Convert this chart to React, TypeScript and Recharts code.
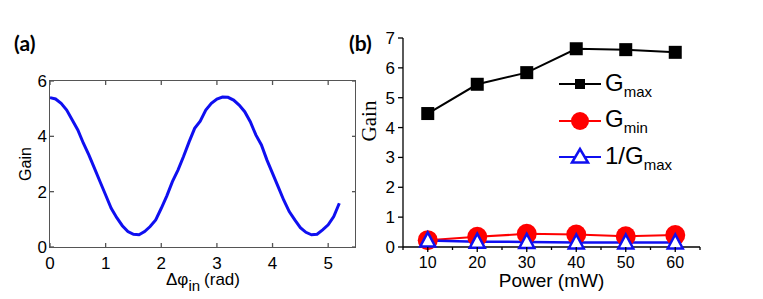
import React from 'react';
import { LineChart, Line, XAxis, YAxis, Legend, Label } from 'recharts';

// panel (a): gain vs input phase difference
const phaseRad = [
  0, 0.1, 0.2, 0.3, 0.4, 0.5, 0.6, 0.7, 0.8, 0.9, 1.0, 1.1, 1.2, 1.3, 1.4, 1.5, 1.6, 1.7,
  1.8, 1.9, 2.0, 2.1, 2.2, 2.3, 2.4, 2.5, 2.6, 2.7, 2.8, 2.9, 3.0, 3.1, 3.2, 3.3, 3.4, 3.5,
  3.6, 3.7, 3.8, 3.9, 4.0, 4.1, 4.2, 4.3, 4.4, 4.5, 4.6, 4.7, 4.8, 4.9, 5.0, 5.1, 5.2,
];
const phaseGain = [
  5.4, 5.35, 5.19, 4.95, 4.59, 4.23, 3.75, 3.32, 2.84, 2.36, 1.88, 1.4, 1.06, 0.77, 0.56, 0.46, 0.44, 0.56,
  0.74, 0.98, 1.4, 1.85, 2.36, 2.78, 3.27, 3.8, 4.29, 4.55, 4.95, 5.19, 5.35, 5.42, 5.41, 5.31, 5.13, 4.89,
  4.53, 4.05, 3.69, 3.14, 2.66, 2.18, 1.7, 1.28, 0.98, 0.7, 0.53, 0.44, 0.46, 0.62, 0.8, 1.1, 1.58,
];
const phaseTicks = [0, 1, 2, 3, 4, 5];
const gainTicksA = [0, 2, 4, 6];

// panel (b): gain vs pump power
const powerMw = [10, 20, 30, 40, 50, 60];
const gainMax = [4.47, 5.45, 5.84, 6.64, 6.61, 6.52];
const gainMin = [0.23, 0.34, 0.44, 0.42, 0.36, 0.4];
const invGainMax = [0.22, 0.18, 0.17, 0.15, 0.15, 0.15];
const powerTicks = [10, 20, 30, 40, 50, 60];
const powerMinorTicks = [5, 15, 25, 35, 45, 55, 65];
const gainTicksB = [0, 1, 2, 3, 4, 5, 6, 7];
const gainMinorTicksB = [0.5, 1.5, 2.5, 3.5, 4.5, 5.5, 6.5];

const phaseData = phaseRad.map((x, i) => ({ x, gain: phaseGain[i] }));
const powerData = powerMw.map((p, i) => ({
  p,
  gmax: gainMax[i],
  gmin: gainMin[i],
  inv: invGainMax[i],
}));

const SANS = '"Liberation Sans", Arial, sans-serif';
const BLUE = '#0f0ff0';
const RED = '#ff0000';
const BOX = '#555';

// panel (a) layout; plot box size is used for the frame and the mirrored inward ticks
const A_W = 380;
const A_H = 299;
const A_MARGIN = { top: 81, right: 24, bottom: 0, left: 0 };
const A_AXIS_W = 50;
const A_AXIS_H = 52;
const A_PLOT_W = A_W - A_MARGIN.left - A_MARGIN.right - A_AXIS_W;
const A_PLOT_H = A_H - A_MARGIN.top - A_MARGIN.bottom - A_AXIS_H;

// tick renderers: the axis is drawn with tickSize 0 / tickMargin 0 so x,y sit on the axis line
const bottomTick = (majors: number[], dir: number, majorLen: number, minorLen: number, gap: number, fs: number, color: string, mirror = 0) =>
  (props: any) => {
    const { x, y, payload } = props;
    const major = majors.includes(payload.value);
    const len = major ? majorLen : minorLen;
    return (
      <g>
        <line x1={x} y1={y} x2={x} y2={y + dir * len} stroke={color} strokeWidth={1.3} />
        {mirror > 0 && <line x1={x} y1={y - mirror} x2={x} y2={y - mirror + len} stroke={color} strokeWidth={1.3} />}
        {major && (
          <text x={x} y={y + gap} dy="0.71em" textAnchor="middle" fontFamily={SANS} fontSize={fs} fill="#000">
            {payload.value}
          </text>
        )}
      </g>
    );
  };

const leftTick = (majors: number[], dir: number, majorLen: number, minorLen: number, gap: number, fs: number, color: string, mirror = 0) =>
  (props: any) => {
    const { x, y, payload } = props;
    const major = majors.includes(payload.value);
    const len = major ? majorLen : minorLen;
    return (
      <g>
        <line x1={x} y1={y} x2={x - dir * len} y2={y} stroke={color} strokeWidth={1.3} />
        {mirror > 0 && <line x1={x + mirror} y1={y} x2={x + mirror - len} y2={y} stroke={color} strokeWidth={1.3} />}
        {major && (
          <text x={x - gap} y={y} dy="0.355em" textAnchor="end" fontFamily={SANS} fontSize={fs} fill="#000">
            {payload.value}
          </text>
        )}
      </g>
    );
  };

const SquareDot = (props: any) => (
  <rect key={`sq-${props.index}`} x={props.cx - 6.5} y={props.cy - 6.5} width={13} height={13} fill="#000" />
);
const CircleDot = (props: any) => (
  <circle key={`ci-${props.index}`} cx={props.cx} cy={props.cy} r={10} fill={RED} />
);
const TriangleDot = (props: any) => (
  <polygon
    key={`tr-${props.index}`}
    points={`${props.cx},${props.cy - 8} ${props.cx - 7.5},${props.cy + 6} ${props.cx + 7.5},${props.cy + 6}`}
    fill="#fff"
    stroke={BLUE}
    strokeWidth={2.5}
  />
);

const PhaseTitle = ({ viewBox }: any) => (
  <text x={viewBox.x + viewBox.width / 2} y={viewBox.y + 38} textAnchor="middle" fontFamily={SANS} fontSize={17} fill="#000">
    Δφ<tspan dy={6} fontSize={15}>in</tspan><tspan dy={-6} dx={4}>(rad)</tspan>
  </text>
);

const GainTitleA = ({ viewBox }: any) => {
  const cx = viewBox.x + viewBox.width - 19;
  const cy = viewBox.y + viewBox.height / 2;
  return (
    <text x={cx} y={cy} transform={`rotate(-90 ${cx} ${cy})`} textAnchor="middle" fontFamily={SANS} fontSize={16} fill="#000">
      Gain
    </text>
  );
};

const PowerTitle = ({ viewBox }: any) => (
  <text x={viewBox.x + viewBox.width / 2} y={viewBox.y + 40} textAnchor="middle" fontFamily={SANS} fontSize={19} fill="#000">
    Power (mW)
  </text>
);

const GainTitleB = ({ viewBox }: any) => {
  const cx = viewBox.x + viewBox.width - 27;
  const cy = viewBox.y + 83;
  return (
    <text x={cx} y={cy} transform={`rotate(-90 ${cx} ${cy})`} textAnchor="middle" fontFamily='"Liberation Serif", "Times New Roman", serif' fontSize={21} fill="#000">
      Gain
    </text>
  );
};

const legendRows = [
  { key: 'gmax', color: '#000', main: 'G', sub: 'max', marker: 'square' },
  { key: 'gmin', color: RED, main: 'G', sub: 'min', marker: 'circle' },
  { key: 'inv', color: BLUE, main: '1/G', sub: 'max', marker: 'triangle' },
];

const PowerLegend = () => (
  <div style={{ fontFamily: SANS }}>
    {legendRows.map((r) => (
      <div key={r.key} style={{ display: 'flex', alignItems: 'center', height: 36.5 }}>
        <svg width={42} height={24} style={{ display: 'block' }}>
          <line x1={0} y1={12} x2={42} y2={12} stroke={r.color} strokeWidth={2} />
          {r.marker === 'square' && <rect x={16} y={7} width={10} height={10} fill="#000" />}
          {r.marker === 'circle' && <circle cx={21} cy={12} r={9} fill={RED} />}
          {r.marker === 'triangle' && (
            <polygon points="21,4 13,17.5 29,17.5" fill="#fff" stroke={BLUE} strokeWidth={2.5} />
          )}
        </svg>
        <span style={{ marginLeft: 4, fontSize: 24, lineHeight: '24px', color: '#000', whiteSpace: 'nowrap' }}>
          {r.main}
          <span style={{ fontSize: 15, position: 'relative', top: 6 }}>{r.sub}</span>
        </span>
      </div>
    ))}
  </div>
);

const panelTag: React.CSSProperties = {
  position: 'absolute',
  top: 31,
  fontFamily: 'Lato, "Open Sans", sans-serif',
  fontWeight: 700,
  fontSize: 21,
  lineHeight: '24px',
  color: '#000',
  zIndex: 2,
};

export default function App() {
  return (
    <div style={{ position: 'absolute', left: 0, top: 0, width: 763, height: 299, background: '#fff' }}>
      <div style={{ position: 'absolute', left: 0, top: 0 }}>
        <LineChart width={A_W} height={A_H} data={phaseData} margin={A_MARGIN}>
          <XAxis
            dataKey="x"
            type="number"
            domain={[0, 5.5]}
            ticks={phaseTicks}
            height={A_AXIS_H}
            axisLine={false}
            tickLine={false}
            tickSize={0}
            tickMargin={0}
            tick={bottomTick(phaseTicks, -1, 4, 4, 10, 17, BOX, A_PLOT_H)}
          >
            <Label content={PhaseTitle} />
          </XAxis>
          <YAxis
            type="number"
            domain={[0, 6]}
            ticks={gainTicksA}
            width={A_AXIS_W}
            axisLine={false}
            tickLine={false}
            tickSize={0}
            tickMargin={0}
            tick={leftTick(gainTicksA, -1, 4, 4, 3, 17, BOX, A_PLOT_W)}
          >
            <Label content={GainTitleA} />
          </YAxis>
          <Line dataKey="gain" stroke={BLUE} strokeWidth={3} dot={false} isAnimationActive={false} />
        </LineChart>
      </div>

      {/* frame round the plot box of panel (a) */}
      <div
        style={{
          position: 'absolute',
          left: A_MARGIN.left + A_AXIS_W - 1,
          top: A_MARGIN.top - 1,
          width: A_PLOT_W + 1,
          height: A_PLOT_H + 2,
          border: `1px solid ${BOX}`,
          boxSizing: 'border-box',
          pointerEvents: 'none',
          zIndex: 3,
        }}
      />

      <div style={{ position: 'absolute', left: 340, top: 0 }}>
        <LineChart width={423} height={299} data={powerData} margin={{ top: 38, right: 63, bottom: 0, left: 0 }}>
          <XAxis
            dataKey="p"
            type="number"
            domain={[5, 65]}
            ticks={[...powerMinorTicks, ...powerTicks].sort((a, b) => a - b)}
            height={52}
            axisLine={{ stroke: '#000', strokeWidth: 1.3 }}
            tickLine={false}
            tickSize={0}
            tickMargin={0}
            tick={bottomTick(powerTicks, 1, 5, 3, 10, 16, '#000')}
          >
            <Label content={PowerTitle} />
          </XAxis>
          <YAxis
            type="number"
            domain={[0, 7]}
            ticks={[...gainMinorTicksB, ...gainTicksB].sort((a, b) => a - b)}
            width={63}
            axisLine={{ stroke: '#000', strokeWidth: 1.3 }}
            tickLine={false}
            tickSize={0}
            tickMargin={0}
            tick={leftTick(gainTicksB, 1, 5, 3, 8, 17, '#000')}
          >
            <Label content={GainTitleB} />
          </YAxis>
          <Line dataKey="gmax" stroke="#000" strokeWidth={2} dot={SquareDot} isAnimationActive={false} />
          <Line dataKey="gmin" stroke={RED} strokeWidth={2} dot={CircleDot} isAnimationActive={false} />
          <Line dataKey="inv" stroke={BLUE} strokeWidth={2.5} dot={TriangleDot} isAnimationActive={false} />
          <Legend
            layout="vertical"
            align="center"
            verticalAlign="middle"
            content={PowerLegend}
            wrapperStyle={{ position: 'absolute', left: 219, top: 66, width: 'auto', bottom: 'auto' }}
          />
        </LineChart>
      </div>

      <span style={{ ...panelTag, left: 14 }}>(a)</span>
      <span style={{ ...panelTag, left: 349 }}>(b)</span>
    </div>
  );
}
